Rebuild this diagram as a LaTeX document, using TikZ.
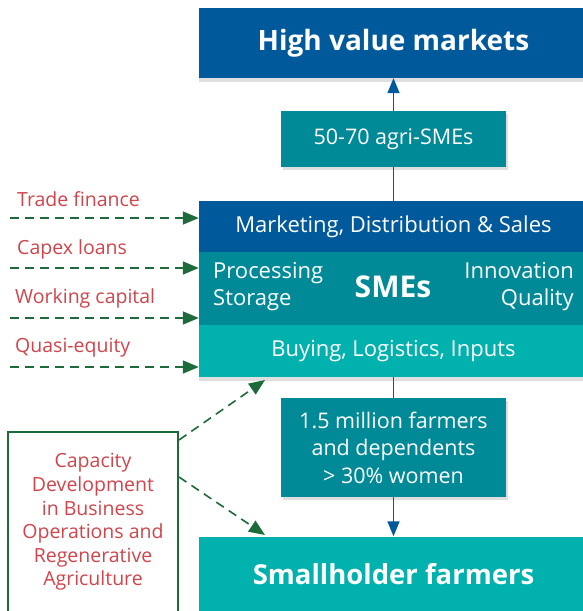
\documentclass[tikz,border=0pt]{standalone}
\usepackage{fontspec}
\setmainfont{Open Sans}
\usetikzlibrary{arrows.meta,shadows}
\definecolor{mktblue}{HTML}{00599A}
\definecolor{midteal}{HTML}{008A98}
\definecolor{lightteal}{HTML}{00B1AE}
\definecolor{fundred}{HTML}{D0454C}
\definecolor{fundgreen}{HTML}{1D6B3A}
\tikzset{
  band/.style={rectangle, inner sep=0pt, text=white, minimum width=389pt},
  statbox/.style={rectangle, inner sep=0pt, text=white, fill=midteal,
    minimum width=225pt, align=center, font=\fontsize{21.5}{27.5}\selectfont,
    drop shadow={opacity=.25, shadow xshift=2pt, shadow yshift=-3pt}},
  flow/.style={draw=mktblue, line width=1.4pt, -{Triangle[length=15pt,width=12pt]}},
  fund/.style={draw=fundgreen, line width=1.6pt, dash pattern=on 9pt off 6pt,
    -{Triangle[length=16pt,width=13pt]}},
  fundlabel/.style={anchor=west, inner sep=0pt, text=fundred,
    font=\fontsize{19.5}{20}\selectfont},
}
\begin{document}
\begin{tikzpicture}[x=1pt,y=-1pt]
  \useasboundingbox[fill=white] (0,0) rectangle (582,611);
  % main column
  \node[band, fill=mktblue, minimum height=70pt,
    drop shadow={opacity=.25, shadow xshift=0pt, shadow yshift=-4pt},
    font=\bfseries\fontsize{28}{30}\selectfont] (hvm) at (393.5,43) {High value markets};
  \node[statbox, minimum height=56pt] (agri) at (393.5,139) {50-70 agri-SMEs};
  \node[band, fill=lightteal, minimum height=52pt,
    drop shadow={opacity=.25, shadow xshift=0pt, shadow yshift=-4pt},
    font=\fontsize{22}{24}\selectfont] (buy) at (393.5,351) {Buying, Logistics, Inputs};
  \node[band, fill=midteal, minimum height=73pt] (proc) at (393.5,288.5) {};
  \node[band, fill=mktblue, minimum height=51pt,
    font=\fontsize{22}{24}\selectfont] (mkt) at (393.5,226.5) {Marketing, Distribution \& Sales};
  \node[font=\bfseries\fontsize{30}{32}\selectfont, text=white] (sme) at (393,287) {SMEs};
  \node[anchor=west, align=left, text=white, inner sep=0pt,
    font=\fontsize{22}{27}\selectfont] (proc-l) at (213,287) {Processing\\Storage};
  \node[anchor=east, align=right, text=white, inner sep=0pt,
    font=\fontsize{22}{27}\selectfont] (proc-r) at (574,287) {Innovation\\Quality};
  \node[statbox, minimum height=99pt] (farm) at (393.5,447.5)
    {1.5 million farmers\\and dependents\\> 30\% women};
  \node[band, fill=lightteal, minimum height=75pt,
    drop shadow={opacity=.25, shadow xshift=0pt, shadow yshift=-4pt},
    font=\bfseries\fontsize{27.5}{30}\selectfont] (shf) at (393.5,574) {Smallholder farmers};
  \draw[flow] (agri.north) -- (agri.north |- hvm.south);
  \draw[draw=mktblue, line width=1.4pt] (agri.south) -- (agri.south |- mkt.north);
  \draw[draw=mktblue, line width=1.4pt] (farm.north |- buy.south) -- (farm.north);
  \draw[flow] (farm.south) -- (farm.south |- shf.north);
  % finance
  \node[fundlabel] (l1) at (17,199) {Trade finance};
  \node[fundlabel] (l2) at (17,249) {Capex loans};
  \node[fundlabel] (l3) at (15,298) {Working capital};
  \node[fundlabel] (l4) at (15,348) {Quasi-equity};
  \coordinate (s1) at (10,218);
  \coordinate (s2) at (10,268);
  \coordinate (s3) at (10,318);
  \coordinate (s4) at (10,367);
  \foreach \s in {s1,s2,s3,s4}
    \draw[fund] (\s) -- (\s -| mkt.west);
  % capacity
  \node[rectangle, draw=fundgreen, line width=1.5pt, fill=white,
    minimum width=170pt, minimum height=190pt, inner sep=0pt,
    drop shadow={opacity=.15, shadow xshift=1pt, shadow yshift=-2pt}] (cap) at (93,527) {};
  \node[text=fundred, align=center, font=\fontsize{19.5}{23.6}\selectfont]
    (cap-t) at (93,522) {Capacity\\Development\\in Business\\Operations and\\Regenerative\\Agriculture};
  \coordinate (c1) at (179,440);
  \coordinate (c2) at (179,477);
  \coordinate (t1) at (265,380);
  \coordinate (t2) at (265,535);
  \draw[fund] (c1) -- (t1);
  \draw[fund] (c2) -- (t2);
\end{tikzpicture}
\end{document}
